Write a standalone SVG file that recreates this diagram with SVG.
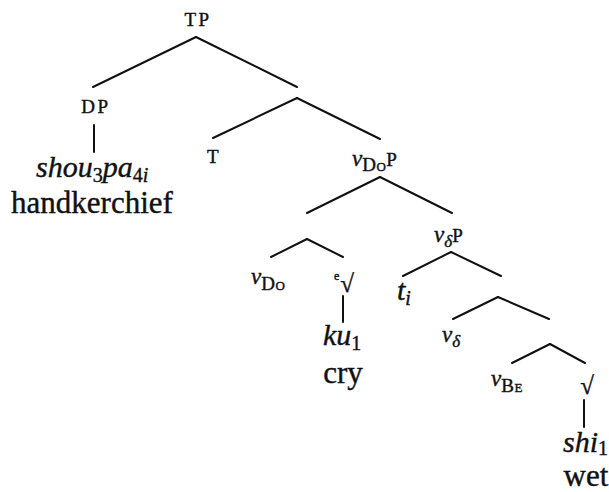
<svg xmlns="http://www.w3.org/2000/svg" width="609" height="492" viewBox="0 0 609 492" font-family="'Liberation Serif', 'DejaVu Serif', serif">
<style>
  text { font-family: "Liberation Serif", "DejaVu Serif", serif; fill: #111; stroke: #111; stroke-width: 0.4px; }
  .cat { font-size: 19px; letter-spacing: 2.5px; }
  .v { font-size: 23px; font-style: italic; }
  .sc { font-size: 19px; font-variant: small-caps; letter-spacing: 0.5px; }
  .sub { font-size: 17px; font-style: italic; }
  .word { font-size: 31px; }
  .it { font-size: 30px; font-style: italic; }
  .isub { font-size: 20px; font-style: italic; }
  .nsub { font-size: 20px; }
  .root { font-size: 25px; }
  .idx { font-size: 12px; }
  .edges line { stroke: #111; stroke-width: 2; stroke-linecap: round; }
</style>
<rect width="609" height="492" fill="#fff"/>
<g class="edges" id="connectors">
  <line x1="196" y1="37" x2="93" y2="87"/>
  <line x1="196" y1="37" x2="297" y2="87"/>
  <line x1="94" y1="125" x2="94" y2="152"/>
  <line x1="297" y1="98" x2="213" y2="138"/>
  <line x1="297" y1="98" x2="380" y2="139"/>
  <line x1="380" y1="177" x2="307" y2="213"/>
  <line x1="380" y1="177" x2="452" y2="213"/>
  <line x1="307" y1="239" x2="271" y2="257"/>
  <line x1="307" y1="239" x2="343" y2="257"/>
  <line x1="343" y1="296" x2="343" y2="322"/>
  <line x1="451" y1="252" x2="403" y2="276"/>
  <line x1="451" y1="252" x2="501" y2="276"/>
  <line x1="498" y1="297" x2="453" y2="319"/>
  <line x1="498" y1="297" x2="549" y2="319"/>
  <line x1="550" y1="344" x2="512" y2="363"/>
  <line x1="550" y1="344" x2="585" y2="363"/>
  <line x1="584" y1="400" x2="584" y2="427"/>
</g>
<g id="node-TP"><text class="cat" x="198" y="26" text-anchor="middle">TP</text></g>
<g id="node-DP"><text class="cat" x="96" y="113" text-anchor="middle">DP</text></g>
<g id="node-shoupa"><text x="36" y="177"><tspan class="it">shou</tspan><tspan class="nsub" dy="5">3</tspan><tspan class="it" dy="-5">pa</tspan><tspan class="nsub" dy="5">4</tspan><tspan class="isub">i</tspan></text></g>
<g id="node-handkerchief"><text class="word" x="92" y="213" text-anchor="middle">handkerchief</text></g>
<g id="node-T"><text class="cat" x="214" y="163" text-anchor="middle">T</text></g>
<g id="node-vDoP"><text x="352" y="166"><tspan class="v">v</tspan><tspan class="sc" dy="5">Do</tspan><tspan class="cat" dy="-5">P</tspan></text></g>
<g id="node-vDo"><text x="251" y="284"><tspan class="v">v</tspan><tspan class="sc" dy="6">Do</tspan></text></g>
<g id="node-root1"><text class="idx" x="334" y="280">e</text><text class="root" x="347" y="292" text-anchor="middle">√</text></g>
<g id="node-ku"><text x="323" y="345"><tspan class="it">ku</tspan><tspan class="nsub" dy="5">1</tspan></text></g>
<g id="node-cry"><text class="word" x="343" y="383" text-anchor="middle">cry</text></g>
<g id="node-vdP"><text x="434" y="242"><tspan class="v">v</tspan><tspan class="sub" dy="5">δ</tspan><tspan class="cat" dy="-5">P</tspan></text></g>
<g id="node-ti"><text x="397" y="300"><tspan class="it">t</tspan><tspan class="isub" dy="5">i</tspan></text></g>
<g id="node-vd"><text x="442" y="342"><tspan class="v">v</tspan><tspan class="sub" dy="5">δ</tspan></text></g>
<g id="node-vBe"><text x="491" y="386"><tspan class="v">v</tspan><tspan class="sc" dy="6">Be</tspan></text></g>
<g id="node-root2"><text class="root" x="587" y="394" text-anchor="middle">√</text></g>
<g id="node-shi"><text x="563" y="452"><tspan class="it">shi</tspan><tspan class="nsub" dy="3">1</tspan></text></g>
<g id="node-wet"><text class="word" x="586" y="486" text-anchor="middle">wet</text></g>
</svg>
